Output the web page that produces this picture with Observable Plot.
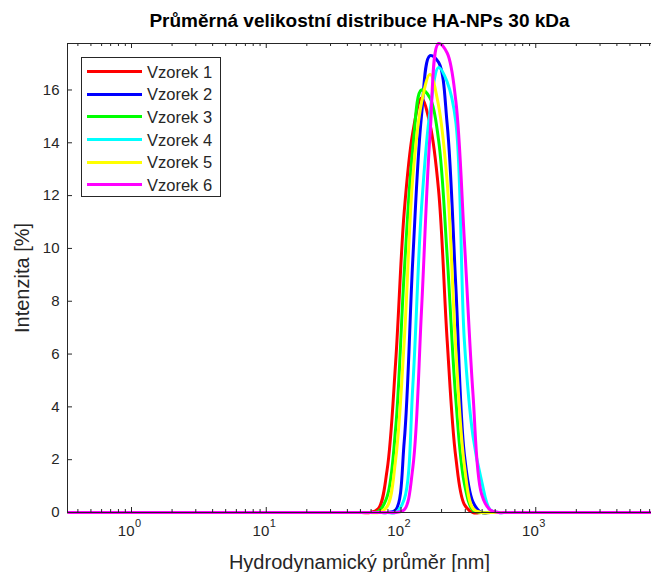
<!DOCTYPE html>
<html><head><meta charset="utf-8">
<script src="https://cdn.jsdelivr.net/npm/d3@7"></script>
<script src="https://cdn.jsdelivr.net/npm/@observablehq/plot@0.6"></script>
<style>
html,body{margin:0;padding:0;overflow:hidden;background:#fff;width:651px;height:572px}
#wrap{position:relative;width:651px;height:572px}
#wrap svg{overflow:hidden;display:block}
#legend{position:absolute;left:81px;top:57px;width:140px;height:140px;border:1px solid #262626;background:#fff;box-sizing:border-box;font-family:"Liberation Sans",Arial,Helvetica,sans-serif;font-size:16.5px;color:#262626}
#legend .row{position:absolute;left:0;height:0}
#legend .sw{position:absolute;left:5px;width:55px;height:3px;top:-1.5px}
#legend .tx{position:absolute;left:65px;top:-10px;line-height:20px;white-space:nowrap}
</style>
</head><body>
<div id="wrap"></div>
<script>
// Hydrodynamic diameter [nm]
const sizes = [0.335, 1, 10, 50.75, 58.77, 68.06, 78.82, 91.28, 105.7, 122.4, 141.8, 164.2, 190.1, 220.2, 255.0, 295.3, 342.0, 396.1, 458.7, 531.2, 615.1, 1000, 10000];
// Intensity [%]
const vzorek1 = [0, 0, 0, 0, 0, 0.15, 1.6, 5.7, 11.4, 14.4, 15.7, 14.7, 12.2, 6.5, 2.1, 0.3, 0, 0, 0, 0, 0, 0, 0];
const vzorek2 = [0, 0, 0, 0, 0, 0, 0, 0.1, 2.7, 9.6, 15.0, 17.3, 17.05, 14.7, 8.6, 2.2, 0.4, 0, 0, 0, 0, 0, 0];
const vzorek3 = [0, 0, 0, 0, 0, 0.05, 0.6, 3.2, 9.1, 13.8, 16.0, 15.7, 14.1, 9.7, 4.3, 1.1, 0.09, 0, 0, 0, 0, 0, 0];
const vzorek4 = [0, 0, 0, 0, 0, 0, 0, 0, 0.5, 4.8, 11.5, 15.2, 16.85, 16.3, 14.8, 6.5, 2.9, 1.2, 0.1, 0, 0, 0, 0];
const vzorek5 = [0, 0, 0, 0, 0, 0, 0.22, 2.0, 6.5, 12.7, 15.5, 16.6, 15.4, 12.5, 6.2, 1.8, 0.15, 0, 0, 0, 0, 0, 0];
const vzorek6 = [0, 0, 0, 0, 0, 0, 0, 0, 0.1, 1.7, 7.6, 14.3, 17.76, 17.4, 15.6, 10.3, 4.5, 0.7, 0.1, 0, 0, 0, 0];
const names = ["Vzorek 1", "Vzorek 2", "Vzorek 3", "Vzorek 4", "Vzorek 5", "Vzorek 6"];
const colors = ["#ff0000", "#0000ff", "#00ff00", "#00ffff", "#ffff00", "#ff00ff"];
const xMajor = [1, 10, 100, 1000, 10000];
const xLabelTicks = [1, 10, 100, 1000];
const xExp = ["0", "1", "2", "3"];
const yTicks = [0, 2, 4, 6, 8, 10, 12, 14, 16];
const xDomain = [0.335, 10000];
const yDomain = [0, 17.76];
const title = "Průměrná velikostní distribuce HA-NPs 30 kDa";
const xLabel = "Hydrodynamický průměr [nm]";
const yLabel = "Intenzita [%]";

const allSeries = [vzorek1, vzorek2, vzorek3, vzorek4, vzorek5, vzorek6];
const data = names.flatMap((n, i) => sizes.map((s, j) => ({size: s, intensity: allSeries[i][j], sample: n})));

const xMinor = [];
for (let k = -1; k <= 3; k++) for (let m = 2; m <= 9; m++) {
  const v = m * Math.pow(10, k);
  if (v >= xDomain[0] && v <= xDomain[1]) xMinor.push(v);
}

const W = 651, H = 572, mL = 67, mT = 43, mB = 60, mR = 0;
const innerH = H - mT - mB;
const innerW = W - mL - mR;
const ax = "#262626";
const font = "'Liberation Sans', Arial, Helvetica, sans-serif";
const xi = xLabelTicks.map((d, i) => ({v: d, e: xExp[i]}));

const chart = Plot.plot({
  width: W, height: H,
  marginLeft: mL, marginTop: mT, marginBottom: mB, marginRight: mR,
  style: {fontFamily: font, background: "#fff", color: ax},
  x: {type: "log", domain: xDomain, range: [mL, 670], axis: null},
  y: {domain: yDomain, axis: null},
  color: {domain: names, range: colors},
  marks: [
    Plot.line(data, {x: "size", y: "intensity", z: "sample", stroke: "sample", strokeWidth: 3, curve: "catmull-rom", strokeLinejoin: "miter", strokeLinecap: "butt"}),
    // frame (left, top, bottom)
    Plot.ruleY([yDomain[0]], {stroke: ax, strokeWidth: 1}),
    Plot.ruleY([yDomain[1]], {stroke: ax, strokeWidth: 1}),
    Plot.ruleX([xDomain[0]], {stroke: ax, strokeWidth: 1}),
    // inward ticks
    Plot.ruleX(xMajor, {x: d => d, insetTop: innerH - 5, stroke: ax}),
    Plot.ruleX(xMajor, {x: d => d, insetBottom: innerH - 5, stroke: ax}),
    Plot.ruleX(xMinor, {x: d => d, insetTop: innerH - 3, stroke: ax}),
    Plot.ruleX(xMinor, {x: d => d, insetBottom: innerH - 3, stroke: ax}),
    Plot.ruleY(yTicks, {y: d => d, insetRight: innerW - 5, stroke: ax}),
    // tick labels
    Plot.text(yTicks, {y: d => d, frameAnchor: "left", dx: -8, textAnchor: "end", lineAnchor: "middle", text: d => String(d), fontSize: 15, fill: ax}),
    Plot.text(xi, {x: "v", frameAnchor: "bottom", dy: 19, dx: 3, textAnchor: "end", lineAnchor: "middle", text: () => "10", fontSize: 15, fill: ax}),
    Plot.text(xi, {x: "v", frameAnchor: "bottom", dy: 11, dx: 3.5, textAnchor: "start", lineAnchor: "middle", text: "e", fontSize: 11, fill: ax}),
    // axis labels & title
    Plot.text([xLabel], {frameAnchor: "bottom", dy: 50, textAnchor: "middle", lineAnchor: "middle", text: d => d, fontSize: 20, fill: ax}),
    Plot.text([yLabel], {frameAnchor: "left", dx: -45, rotate: -90, textAnchor: "middle", lineAnchor: "middle", text: d => d, fontSize: 20, fill: ax}),
    Plot.text([title], {frameAnchor: "top", dy: -23, textAnchor: "middle", lineAnchor: "middle", text: d => d, fontSize: 19, fontWeight: "bold", fill: "#000"})
  ]
});
const wrap = document.getElementById("wrap");
wrap.appendChild(chart);

// legend overlay inside the axes
const lg = document.createElement("div");
lg.id = "legend";
names.forEach((n, i) => {
  const row = document.createElement("div");
  row.className = "row";
  row.style.top = (13.7 + 22.6 * i) + "px";
  const sw = document.createElement("div");
  sw.className = "sw";
  sw.style.background = colors[i];
  const tx = document.createElement("div");
  tx.className = "tx";
  tx.textContent = n;
  row.appendChild(sw); row.appendChild(tx);
  lg.appendChild(row);
});
wrap.appendChild(lg);
</script>
</body></html>
